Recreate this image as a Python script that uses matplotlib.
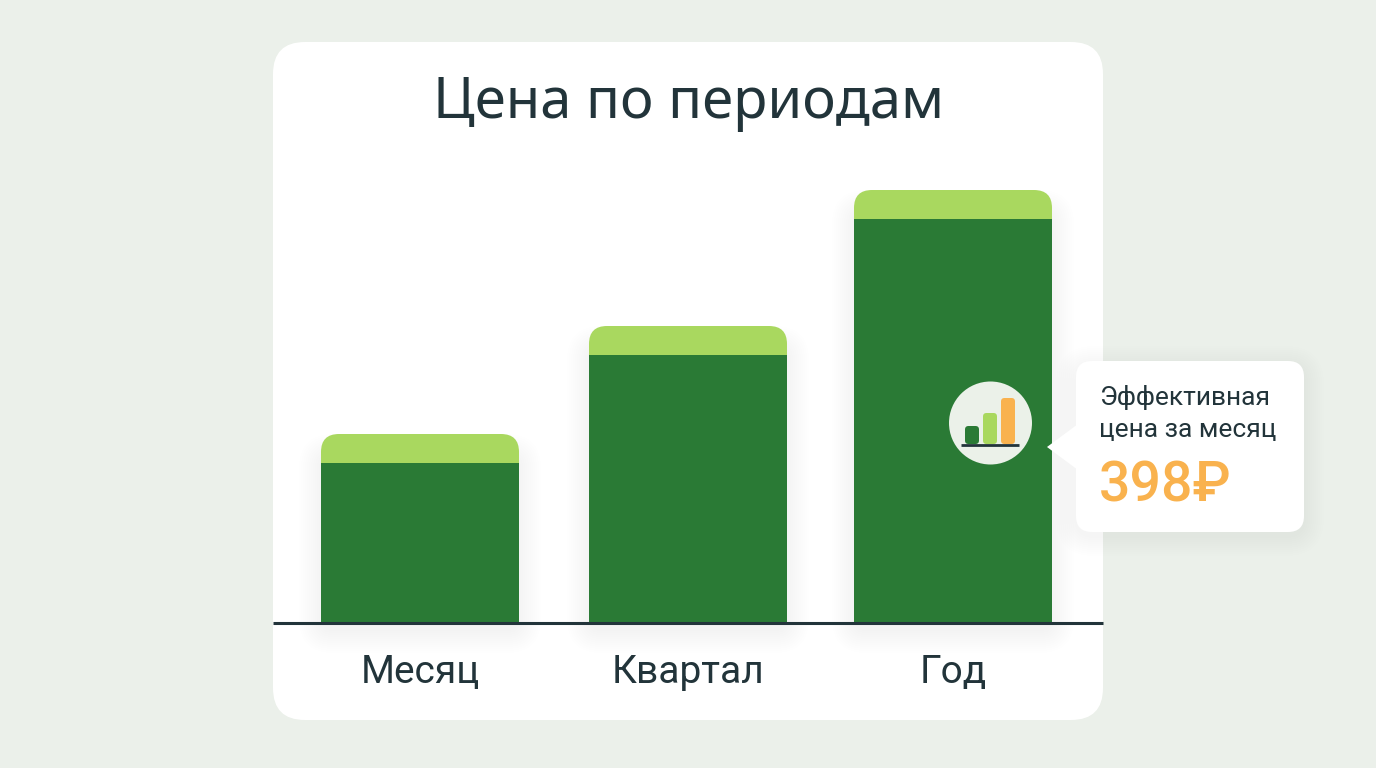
import matplotlib
matplotlib.use("Agg")
import matplotlib.pyplot as plt
from matplotlib.patches import FancyBboxPatch, Circle, Polygon

# bar values
periods = ["Месяц", "Квартал", "Год"]
base_values = [160, 268, 404]
top_values = [29, 29, 29]
icon_values = [17, 30, 45]
icon_colors = ["#2A7A35", "#A9D85F", "#F9B24E"]

callout_lines = ["Эффективная", "цена за месяц"]
callout_price = "398₽"
chart_title = "Цена по периодам"

BG = "#EBF0EA"
DARK = "#2A7A35"
LIGHT = "#A9D85F"
INK = "#22343A"
ORANGE = "#F9B24E"

W, H = 1376, 768
bar_centers = [147, 415, 680]
bar_width = 198
baseline_y = 623

plt.rcParams["font.family"] = ["Roboto", "Noto Sans", "DejaVu Sans"]

fig = plt.figure(figsize=(W / 100, H / 100), dpi=100, facecolor=BG)

# layer in pixel coords for card, shadows and callout
back = fig.add_axes([0, 0, 1, 1], zorder=0)
back.set_xlim(0, W)
back.set_ylim(H, 0)
back.axis("off")


def rounded(ax, x0, y0, x1, y1, r, **kw):
    p = FancyBboxPatch((x0, y0), x1 - x0, y1 - y0,
                       boxstyle="round,pad=0,rounding_size=%g" % r, linewidth=0, **kw)
    ax.add_patch(p)
    return p


def soft_shadow(ax, x0, y0, x1, y1, r, spread, alpha, clip=None, color="#1C2B20"):
    # stack of growing translucent boxes
    for i in range(spread, 0, -2):
        p = rounded(ax, x0 - i, y0 - i, x1 + i, y1 + i, r + i,
                    facecolor=color, alpha=alpha)
        if clip is not None:
            p.set_clip_path(clip)


card = rounded(back, 273, 42, 1103, 720, 32, facecolor="white")

for c, b, t in zip(bar_centers, base_values, top_values):
    left = 273 + c - bar_width / 2
    soft_shadow(back, left + 2, baseline_y - b - t + 24, left + bar_width - 2, baseline_y + 6,
                10, 24, 0.0052, clip=card)

# the chart itself, one unit is one pixel
ax = fig.add_axes([273 / W, (H - baseline_y) / H, 830 / W, 483 / H], zorder=1)
ax.patch.set_alpha(0)
ax.set_xlim(0, 830)
ax.set_ylim(0, 483)

dark_bars = ax.bar(bar_centers, base_values, width=bar_width, color=DARK, linewidth=0)
light_bars = ax.bar(bar_centers, top_values, width=bar_width, bottom=base_values, color=LIGHT, linewidth=0)

# round the top corners of each stacked bar
for c, b, t, d_bar, l_bar in zip(bar_centers, base_values, top_values, dark_bars, light_bars):
    clip = FancyBboxPatch((c - bar_width / 2, -40), bar_width, b + t + 40,
                          boxstyle="round,pad=0,rounding_size=18", transform=ax.transData)
    d_bar.set_clip_path(clip)
    l_bar.set_clip_path(clip)

for side in ["top", "right", "left"]:
    ax.spines[side].set_visible(False)
ax.spines["bottom"].set_color(INK)
ax.spines["bottom"].set_linewidth(2.2)
ax.spines["bottom"].set_capstyle("butt")
ax.set_yticks([])
ax.set_xticks(bar_centers)
ax.set_xticklabels(periods, fontsize=28, color=INK)
ax.tick_params(axis="x", length=0, pad=22)

fig.text(689 / W, 1 - 103 / H, chart_title, fontsize=40.5, color=INK, ha="center", va="center",
         family=["Noto Sans", "DejaVu Sans"])

# callout and icon sit on top of the bars
front = fig.add_axes([0, 0, 1, 1], zorder=2)
front.set_xlim(0, W)
front.set_ylim(H, 0)
front.axis("off")
front.patch.set_alpha(0)

soft_shadow(front, 1076, 366, 1304, 536, 18, 20, 0.0035)
rounded(front, 1076, 361, 1304, 532, 16, facecolor="white")
front.add_patch(Polygon([(1047, 447), (1078, 424), (1078, 470)], closed=True, facecolor="white", linewidth=0))

front.text(1099, 398, callout_lines[0], fontsize=19, color=INK, va="center")
front.text(1099, 430, callout_lines[1], fontsize=19, color=INK, va="center")
front.text(1099, 486, callout_price, fontsize=40, color=ORANGE, va="center", fontweight="medium")

front.add_patch(Circle((990.5, 423), 41.5, facecolor="#EBF1E9", linewidth=0))
icon_base = 443
for x, v, col in zip([965, 983, 1001], icon_values, icon_colors):
    rounded(front, x, icon_base - v, x + 14, icon_base + 1, 3.5, facecolor=col)
front.plot([961, 1019], [445, 445], color=INK, linewidth=2, solid_capstyle="butt")

fig.savefig("out.png", dpi=100, facecolor=BG)
